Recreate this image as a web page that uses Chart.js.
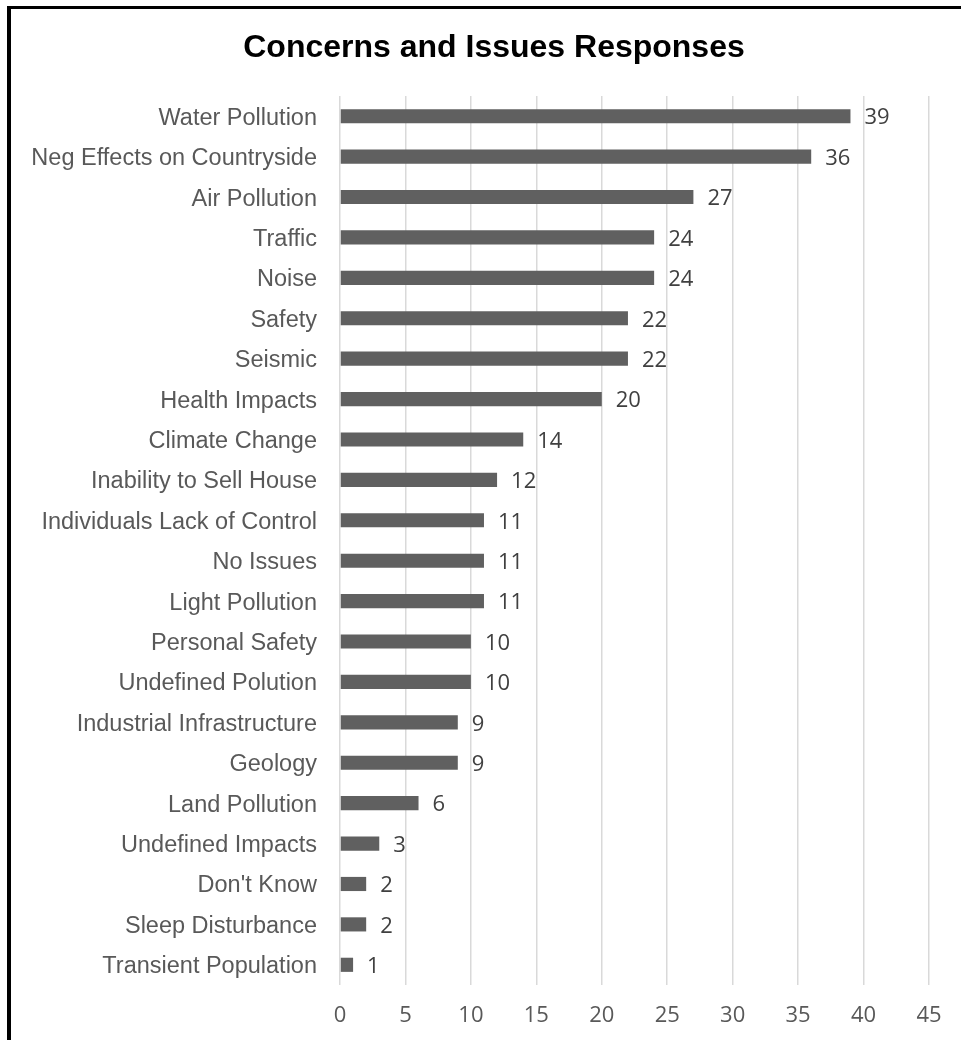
<!DOCTYPE html>
<html>
<head>
<meta charset="utf-8">
<title>Concerns and Issues Responses</title>
<script src="https://cdn.jsdelivr.net/npm/chart.js@4"></script>
<style>
    body { margin: 0; background: #fff; overflow: hidden; }
    #frame {
        position: absolute; left: 7px; top: 6px;
        width: 1000px; height: 1100px;
        border-left: 4px solid #000; border-top: 3px solid #000;
    }
    #concernsChart { position: absolute; left: 0; top: 0; }
</style>
</head>
<body>
<div id="frame"></div>
<canvas id="concernsChart" width="961" height="1040"></canvas>
<script>
// Survey responses, listed top to bottom
const concernLabels = [
    'Water Pollution', 'Neg Effects on Countryside', 'Air Pollution', 'Traffic', 'Noise',
    'Safety', 'Seismic', 'Health Impacts', 'Climate Change', 'Inability to Sell House',
    'Individuals Lack of Control', 'No Issues', 'Light Pollution', 'Personal Safety',
    'Undefined Polution', 'Industrial Infrastructure', 'Geology', 'Land Pollution',
    'Undefined Impacts', "Don't Know", 'Sleep Disturbance', 'Transient Population'
];
const responseCounts = [39, 36, 27, 24, 24, 22, 22, 20, 14, 12, 11, 11, 11, 10, 10, 9, 9, 6, 3, 2, 2, 1];
const axisMax = 45;
const axisStep = 5;
const chartTitle = 'Concerns and Issues Responses';

// Title sits off-centre relative to the canvas, so it is drawn by hand
const titleText = {
    id: 'titleText',
    afterDraw(chart) {
        const ctx = chart.ctx;
        ctx.save();
        ctx.font = 'bold 32px Arial, "Liberation Sans", sans-serif';
        ctx.fillStyle = '#000';
        ctx.textAlign = 'center';
        ctx.textBaseline = 'alphabetic';
        ctx.fillText(chartTitle, 494, 57);
        ctx.restore();
    }
};

// Writes the count just past the end of each bar
const valueLabels = {
    id: 'valueLabels',
    afterDatasetsDraw(chart) {
        const ctx = chart.ctx;
        const meta = chart.getDatasetMeta(0);
        ctx.save();
        ctx.font = '22px "Open Sans", sans-serif';
        ctx.fillStyle = '#404040';
        ctx.textAlign = 'left';
        ctx.textBaseline = 'middle';
        meta.data.forEach((bar, i) => {
            ctx.fillText(String(responseCounts[i]), bar.x + 14, bar.y + 2);
        });
        ctx.restore();
    }
};

const ctx = document.getElementById('concernsChart').getContext('2d');

new Chart(ctx, {
    type: 'bar',
    data: {
        labels: concernLabels,
        datasets: [{
            data: responseCounts,
            backgroundColor: '#606060',
            borderWidth: 0,
            categoryPercentage: 1,
            barPercentage: 0.35
        }]
    },
    options: {
        indexAxis: 'y',
        responsive: false,
        animation: false,
        devicePixelRatio: 1,
        layout: { padding: { left: 0, right: 32, top: 96, bottom: 0 } },
        plugins: {
            legend: { display: false },
            tooltip: { enabled: false },
            title: { display: false }
        },
        scales: {
            x: {
                min: 0,
                max: axisMax,
                ticks: {
                    stepSize: axisStep,
                    padding: 18,
                    color: '#595959',
                    font: { family: '"Open Sans", sans-serif', size: 22 }
                },
                grid: { color: '#d9d9d9', lineWidth: 1.5, drawTicks: false },
                border: { display: false },
                afterFit(scale) { scale.height = 55; }
            },
            y: {
                ticks: {
                    padding: 23,
                    labelOffset: 2,
                    color: '#595959',
                    autoSkip: false,
                    font: { family: 'Arial, "Liberation Sans", sans-serif', size: 23.5 }
                },
                grid: { display: false, drawTicks: false },
                border: { display: false },
                afterFit(scale) { scale.width = 340; }
            }
        }
    },
    plugins: [valueLabels, titleText]
});
</script>
</body>
</html>
